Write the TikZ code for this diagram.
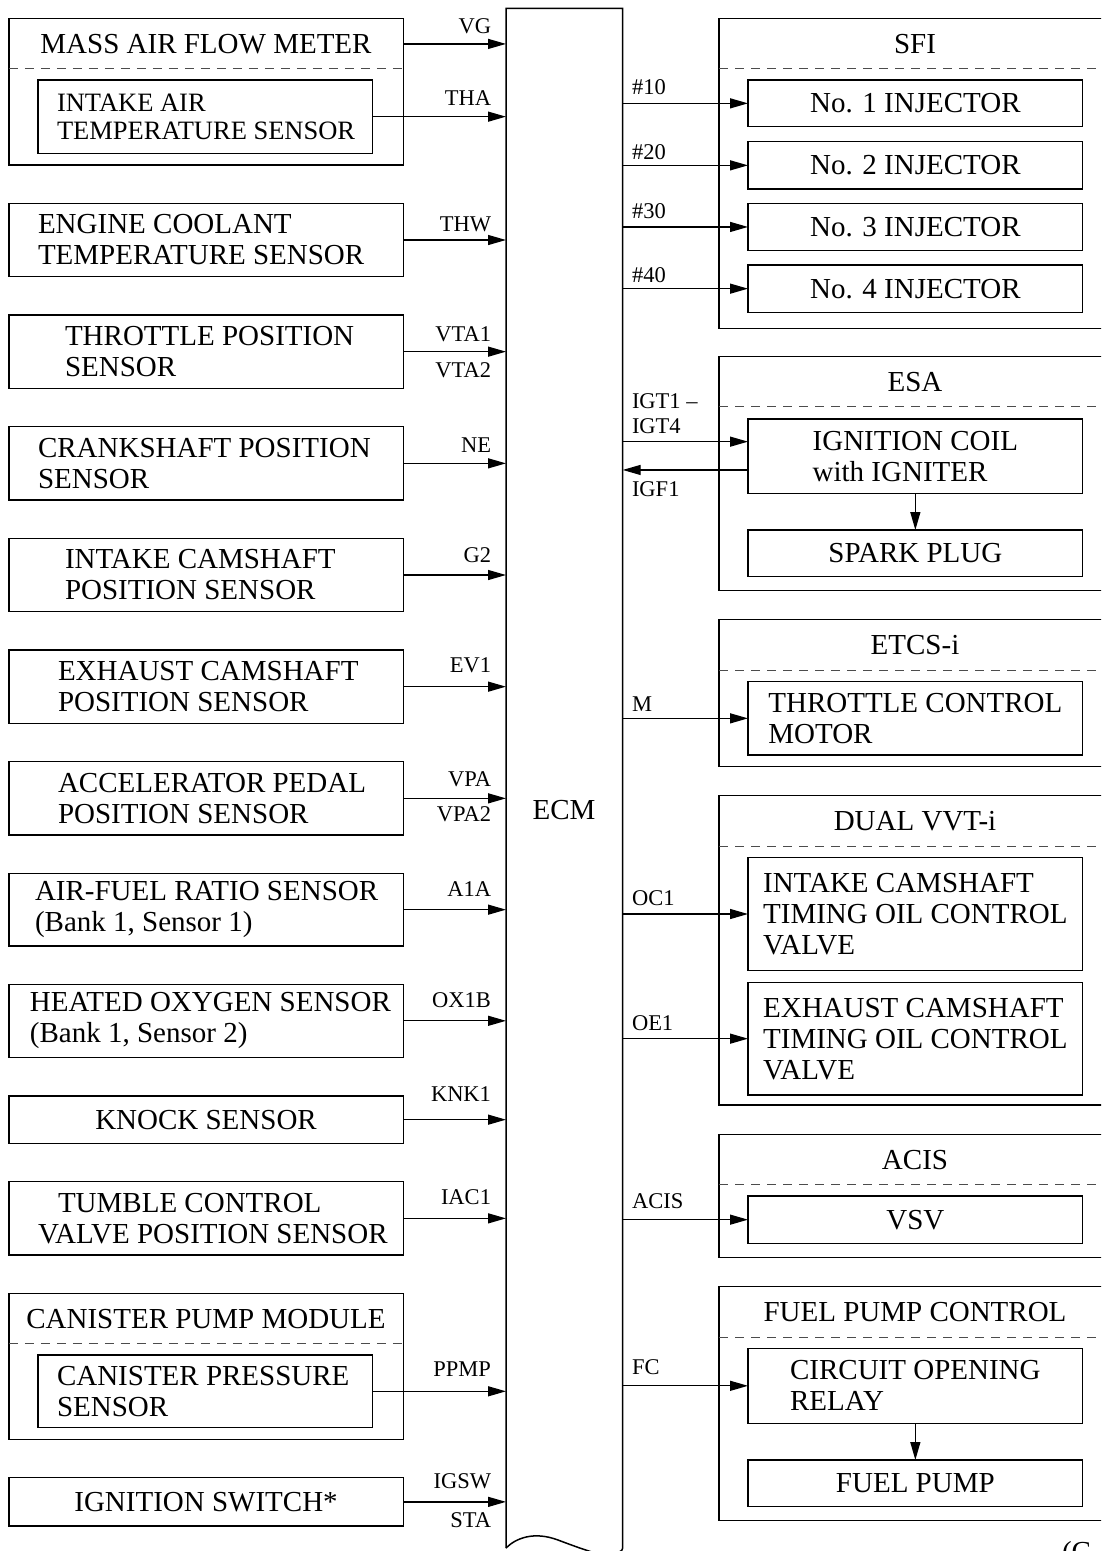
\documentclass[tikz,border=0pt]{standalone}
\usepackage{fontspec}
\setmainfont{Liberation Serif}
\usetikzlibrary{arrows.meta,calc}
\newcommand\msz{\fontsize{29}{31}\selectfont}
\newcommand\ssz{\fontsize{26.5}{28.5}\selectfont}
\newcommand\lsz{\fontsize{22.5}{25}\selectfont}
\tikzset{
  boxline/.style={draw, line width=1.5pt},
  bx/.style={boxline, inner sep=0pt, outer sep=0pt, anchor=north west},
  txt/.style={inner sep=0pt, outer sep=0pt, font=\msz, align=left},
  lab/.style={inner sep=0pt, outer sep=0pt, font=\lsz, align=left},
  arr/.style={line width=1.3pt, -{Triangle[length=18pt,width=10pt]}},
  dashln/.style={line width=1pt, black!70, dash pattern=on 9pt off 7pt},
}
\begin{document}
\begin{tikzpicture}[x=1pt,y=-1pt]
\useasboundingbox (0,0) rectangle (1101,1551);
\clip (0,0) rectangle (1101,1551);

% ---------------- ECM ----------------
\node[inner sep=0pt, outer sep=0pt, anchor=north west, minimum width=116.7pt, minimum height=1539.7pt] (ecm) at (506,8.3) {};
\draw[boxline, line join=miter] (ecm.south west) -- (ecm.north west) -- (ecm.north east) -- (ecm.south east)
  .. controls (622.7,1550) and (621.5,1551) .. (619,1552);
\draw[boxline] (ecm.south west) .. controls (516,1538) and (534,1531) .. (558,1540)
  .. controls (574,1546) and (590,1552) .. (606,1556);
\node[txt] (ecmt) at (564,810) {ECM};

% ---------------- left boxes ----------------
\node[bx, minimum width=394.5pt, minimum height=146.7pt] (maf) at (8.8,18.3) {};
\node[txt, anchor=base] (maft) at (206,53.3) {MASS AIR FLOW METER};
\draw[dashln] ([yshift=-50pt]maf.north west) -- ([yshift=-50pt]maf.north east);
\node[bx, minimum width=334.6pt, minimum height=73.3pt] (mafin) at (38,80) {};
\node[txt, font=\ssz, anchor=west] (mafint) at (57,116.65) {INTAKE AIR\\TEMPERATURE SENSOR};

\node[bx, minimum width=394.5pt, minimum height=73.4pt] (ect) at (8.8,203.3) {};
\node[txt, anchor=west] (ectt) at (38,240) {ENGINE COOLANT\\TEMPERATURE SENSOR};

\node[bx, minimum width=394.5pt, minimum height=73.3pt] (tps) at (8.8,315) {};
\node[txt, anchor=west] (tpst) at (65,351.65) {THROTTLE POSITION\\SENSOR};

\node[bx, minimum width=394.5pt, minimum height=73.3pt] (cps) at (8.8,426.7) {};
\node[txt, anchor=west] (cpst) at (38,463.35) {CRANKSHAFT POSITION\\SENSOR};

\node[bx, minimum width=394.5pt, minimum height=73.4pt] (icps) at (8.8,538.3) {};
\node[txt, anchor=west] (icpst) at (65,575) {INTAKE CAMSHAFT\\POSITION SENSOR};

\node[bx, minimum width=394.5pt, minimum height=73.3pt] (ecps) at (8.8,650) {};
\node[txt, anchor=west] (ecpst) at (58,686.65) {EXHAUST CAMSHAFT\\POSITION SENSOR};

\node[bx, minimum width=394.5pt, minimum height=73.3pt] (apps) at (8.8,761.7) {};
\node[txt, anchor=west] (appst) at (58,798.35) {ACCELERATOR PEDAL\\POSITION SENSOR};

\node[bx, minimum width=394.5pt, minimum height=72.7pt] (afr) at (8.8,873.3) {};
\node[txt, anchor=west] (afrt) at (35,909.65) {AIR-FUEL RATIO SENSOR\\(Bank 1, Sensor 1)};

\node[bx, minimum width=394.5pt, minimum height=73pt] (hos) at (8.8,984.3) {};
\node[txt, anchor=west] (host) at (30,1020.8) {HEATED OXYGEN SENSOR\\(Bank 1, Sensor 2)};

\node[bx, minimum width=394.5pt, minimum height=47.3pt] (knk) at (8.8,1096) {};
\node[txt, anchor=base] (knkt) at ([yshift=-9.5pt]knk.center) {KNOCK SENSOR};

\node[bx, minimum width=394.5pt, minimum height=73.3pt] (tcv) at (8.8,1181.7) {};
\node[txt, anchor=west] (tcvt) at (38,1218.35) {\hspace*{20pt}TUMBLE CONTROL\\VALVE POSITION SENSOR};

\node[bx, minimum width=394.5pt, minimum height=146pt] (can) at (8.8,1293.3) {};
\node[txt, anchor=base] (cant) at (206,1328.3) {CANISTER PUMP MODULE};
\draw[dashln] ([yshift=-50pt]can.north west) -- ([yshift=-50pt]can.north east);
\node[bx, minimum width=334.6pt, minimum height=72.6pt] (canin) at (38,1355) {};
\node[txt, anchor=west] (canint) at (57,1391.3) {CANISTER PRESSURE\\SENSOR};

\node[bx, minimum width=394.5pt, minimum height=48.3pt] (igs) at (8.8,1477.7) {};
\node[txt, anchor=base] (igst) at ([yshift=-9.5pt]igs.center) {IGNITION SWITCH*};

% ---------------- left connectors ----------------
\draw[arr] (maf.east |- maft) -- (ecm.west |- maft);
\draw[arr] (mafin.east) -- (mafin.east -| ecm.west);
\foreach \b in {ect,tps,cps,icps,ecps,apps,afr,hos,knk,tcv,igs}
  \draw[arr] (\b.east) -- (\b.east -| ecm.west);
\draw[arr] (canin.east) -- (canin.east -| ecm.west);

\node[lab, anchor=base east] (lvg) at (491,33.3) {VG};
\node[lab, anchor=base east] (ltha) at (491,105) {THA};
\node[lab, anchor=base east] (lthw) at (491,231) {THW};
\node[lab, anchor=base east] (lvta1) at (491,341.7) {VTA1};
\node[lab, anchor=base east] (lvta2) at (491,377.3) {VTA2};
\node[lab, anchor=base east] (lne) at (491,452.7) {NE};
\node[lab, anchor=base east] (lg2) at (491,562.7) {G2};
\node[lab, anchor=base east] (lev1) at (491,672.7) {EV1};
\node[lab, anchor=base east] (lvpa) at (491,786) {VPA};
\node[lab, anchor=base east] (lvpa2) at (491,821.7) {VPA2};
\node[lab, anchor=base east] (la1a) at (491,896.7) {A1A};
\node[lab, anchor=base east] (lox1b) at (491,1007.7) {OX1B};
\node[lab, anchor=base east] (lknk1) at (491,1101.7) {KNK1};
\node[lab, anchor=base east] (liac1) at (491,1204) {IAC1};
\node[lab, anchor=base east] (lppmp) at (491,1376) {PPMP};
\node[lab, anchor=base east] (ligsw) at (491,1488.3) {IGSW};
\node[lab, anchor=base east] (lsta) at (491,1527.7) {STA};

% ---------------- right boxes ----------------
\node[bx, minimum width=400pt, minimum height=310pt] (sfi) at (719,18.3) {};
\node[txt, anchor=base] (sfit) at (915,53.3) {SFI};
\draw[dashln] ([yshift=-50pt]sfi.north west) -- ([yshift=-50pt]sfi.north east);
\node[bx, minimum width=334.7pt, minimum height=46.7pt] (inj1) at (748,80) {};
\node[bx, minimum width=334.7pt, minimum height=47.3pt] (inj2) at (748,141.7) {};
\node[bx, minimum width=334.7pt, minimum height=47.3pt] (inj3) at (748,203.3) {};
\node[bx, minimum width=334.7pt, minimum height=47.3pt] (inj4) at (748,265) {};
\node[txt, anchor=base] (inj1t) at ([yshift=-9.5pt]inj1.center) {No. 1 INJECTOR};
\node[txt, anchor=base] (inj2t) at ([yshift=-9.5pt]inj2.center) {No. 2 INJECTOR};
\node[txt, anchor=base] (inj3t) at ([yshift=-9.5pt]inj3.center) {No. 3 INJECTOR};
\node[txt, anchor=base] (inj4t) at ([yshift=-9.5pt]inj4.center) {No. 4 INJECTOR};

\node[bx, minimum width=400pt, minimum height=234pt] (esa) at (719,356.7) {};
\node[txt, anchor=base] (esat) at (915,391.7) {ESA};
\draw[dashln] ([yshift=-50pt]esa.north west) -- ([yshift=-50pt]esa.north east);
\node[bx, minimum width=334.7pt, minimum height=74.3pt] (coil) at (748,419) {};
\node[txt] (coilt) at (coil.center) {IGNITION COIL\\with IGNITER};
\node[bx, minimum width=334.7pt, minimum height=46.7pt] (spark) at (748,530) {};
\node[txt, anchor=base] (sparkt) at ([yshift=-9.5pt]spark.center) {SPARK PLUG};
\draw[arr] (coil.south) -- (spark.north);

\node[bx, minimum width=400pt, minimum height=147.4pt] (etcs) at (719,619.3) {};
\node[txt, anchor=base] (etcst) at (915,654.3) {ETCS-i};
\draw[dashln] ([yshift=-51.4pt]etcs.north west) -- ([yshift=-51.4pt]etcs.north east);
\node[bx, minimum width=334.7pt, minimum height=73.3pt] (tcm) at (748,681.7) {};
\node[txt] (tcmt) at (tcm.center) {THROTTLE CONTROL\\MOTOR};

\node[bx, minimum width=400pt, minimum height=309.3pt] (vvt) at (719,795.7) {};
\node[txt, anchor=base] (vvtt) at (915,830.7) {DUAL VVT-i};
\draw[dashln] ([yshift=-50.3pt]vvt.north west) -- ([yshift=-50.3pt]vvt.north east);
\node[bx, minimum width=334.7pt, minimum height=113.4pt] (ocvin) at (748,857.3) {};
\node[txt] (ocvint) at (ocvin.center) {INTAKE CAMSHAFT\\TIMING OIL CONTROL\\VALVE};
\node[bx, minimum width=334.7pt, minimum height=112.7pt] (ocvex) at (748,982.3) {};
\node[txt] (ocvext) at (ocvex.center) {EXHAUST CAMSHAFT\\TIMING OIL CONTROL\\VALVE};

\node[bx, minimum width=400pt, minimum height=123pt] (acis) at (719,1134.3) {};
\node[txt, anchor=base] (acist) at (915,1169.3) {ACIS};
\draw[dashln] ([yshift=-50pt]acis.north west) -- ([yshift=-50pt]acis.north east);
\node[bx, minimum width=334.7pt, minimum height=47.3pt] (vsv) at (748,1196) {};
\node[txt, anchor=base] (vsvt) at ([yshift=-9.5pt]vsv.center) {VSV};

\node[bx, minimum width=400pt, minimum height=234pt] (fpc) at (719,1286.7) {};
\node[txt, anchor=base] (fpct) at (915,1321.7) {FUEL PUMP CONTROL};
\draw[dashln] ([yshift=-50.6pt]fpc.north west) -- ([yshift=-50.6pt]fpc.north east);
\node[bx, minimum width=334.7pt, minimum height=75pt] (relay) at (748,1348.3) {};
\node[txt] (relayt) at (relay.center) {CIRCUIT OPENING\\RELAY};
\node[bx, minimum width=334.7pt, minimum height=46.7pt] (fpump) at (748,1460) {};
\node[txt, anchor=base] (fpumpt) at ([yshift=-9.5pt]fpump.center) {FUEL PUMP};
\draw[arr] (relay.south) -- (fpump.north);

% ---------------- right connectors ----------------
\foreach \b in {inj1,inj2,inj3,inj4,tcm,ocvin,ocvex,vsv,relay}
  \draw[arr] (ecm.east |- \b.west) -- (\b.west);
\coordinate (igtc) at ([yshift=14.5pt]coil.west);
\coordinate (igfc) at ([yshift=-13.8pt]coil.west);
\draw[arr] (ecm.east |- igtc) -- (igtc);
\draw[arr] (igfc) -- (igfc -| ecm.east);

\node[lab, anchor=base west] (r10) at (632,94.3) {\#10};
\node[lab, anchor=base west] (r20) at (632,159.3) {\#20};
\node[lab, anchor=base west] (r30) at (632,218.3) {\#30};
\node[lab, anchor=base west] (r40) at (632,282.7) {\#40};
\node[lab, anchor=south west] (rigt) at (632,433.3) {IGT1 –\\IGT4};
\node[lab, anchor=base west] (rigf) at (632,496.7) {IGF1};
\node[lab, anchor=base west] (rm) at (632,711.7) {M};
\node[lab, anchor=base west] (roc1) at (632,905) {OC1};
\node[lab, anchor=base west] (roe1) at (632,1030) {OE1};
\node[lab, anchor=base west] (racis) at (632,1208.3) {ACIS};
\node[lab, anchor=base west] (rfc) at (632,1374) {FC};

% cut-off note at bottom right, as in the reference
\node[txt, anchor=base west] (cont) at (1062,1561) {(C};
\end{tikzpicture}
\end{document}
